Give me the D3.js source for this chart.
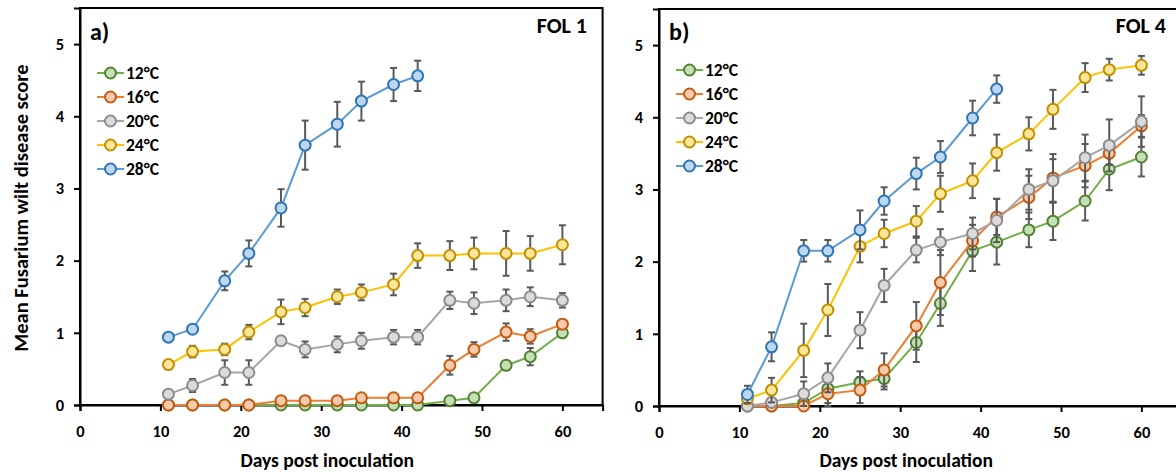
<!DOCTYPE html>
<html lang="en">
<head>
<meta charset="UTF-8">
<title>Fusarium wilt</title>
<script src="https://d3js.org/d3.v7.min.js"></script>
<style>
  body { margin: 0; background: #fff; }
  text { font-family: Carlito, Lato, "DejaVu Sans", sans-serif; font-weight: bold; fill: #000; }
</style>
</head>
<body>
<script>
// sampling days
var days = [11, 14, 18, 21, 25, 28, 32, 35, 39, 42, 46, 49, 53, 56, 60];
var temps = ['12°C', '16°C', '20°C', '24°C', '28°C'];
var xTicks = [0, 10, 20, 30, 40, 50, 60];
var yTicks = [0, 1, 2, 3, 4, 5];

// FOL 1 (panel a) means and error
var fol1_12 = [0, 0, 0, 0, 0, 0, 0, 0, 0, 0, 0.06, 0.1, 0.55, 0.67, 1.0];
var fol1_12e = [0, 0, 0, 0, 0, 0, 0, 0, 0, 0, 0.03, 0.04, 0.06, 0.12, 0.05];
var fol1_16 = [0, 0, 0, 0, 0.06, 0.06, 0.06, 0.1, 0.1, 0.1, 0.55, 0.77, 1.01, 0.95, 1.12];
var fol1_16e = [0, 0, 0, 0, 0.03, 0.03, 0.03, 0.04, 0.04, 0.04, 0.13, 0.1, 0.12, 0.1, 0.06];
var fol1_20 = [0.15, 0.27, 0.45, 0.45, 0.89, 0.77, 0.84, 0.89, 0.94, 0.94, 1.45, 1.41, 1.45, 1.5, 1.45];
var fol1_20e = [0.05, 0.09, 0.17, 0.17, 0.06, 0.11, 0.11, 0.11, 0.1, 0.1, 0.12, 0.15, 0.15, 0.13, 0.1];
var fol1_24 = [0.56, 0.74, 0.77, 1.01, 1.29, 1.35, 1.5, 1.56, 1.67, 2.07, 2.07, 2.1, 2.1, 2.1, 2.22];
var fol1_24e = [0.05, 0.08, 0.08, 0.1, 0.17, 0.12, 0.1, 0.11, 0.15, 0.17, 0.2, 0.22, 0.31, 0.24, 0.27];
var fol1_28 = [0.94, 1.05, 1.72, 2.1, 2.73, 3.6, 3.89, 4.21, 4.44, 4.56];
var fol1_28e = [0.04, 0.04, 0.13, 0.18, 0.26, 0.34, 0.31, 0.27, 0.23, 0.21];

// FOL 4 (panel b)
var fol4_12 = [0, 0, 0.04, 0.24, 0.33, 0.38, 0.88, 1.42, 2.15, 2.27, 2.44, 2.56, 2.84, 3.28, 3.45];
var fol4_12e = [0, 0, 0.03, 0.2, 0.15, 0.15, 0.27, 0.31, 0.28, 0.31, 0.24, 0.26, 0.27, 0.29, 0.27];
var fol4_16 = [0, 0, 0, 0.17, 0.22, 0.5, 1.11, 1.71, 2.29, 2.62, 2.89, 3.16, 3.33, 3.5, 3.88];
var fol4_16e = [0, 0, 0, 0.17, 0.18, 0.23, 0.33, 0.45, 0.22, 0.25, 0.3, 0.33, 0.3, 0.16, 0.15];
var fol4_20 = [0, 0.05, 0.17, 0.39, 1.05, 1.67, 2.16, 2.27, 2.39, 2.57, 3.0, 3.12, 3.44, 3.61, 3.94];
var fol4_20e = [0.03, 0.06, 0.17, 0.2, 0.25, 0.23, 0.17, 0.18, 0.22, 0.3, 0.28, 0.3, 0.32, 0.36, 0.35];
var fol4_24 = [0.1, 0.22, 0.77, 1.33, 2.21, 2.39, 2.56, 2.94, 3.12, 3.51, 3.77, 4.11, 4.55, 4.66, 4.72];
var fol4_24e = [0.05, 0.17, 0.37, 0.36, 0.22, 0.19, 0.21, 0.25, 0.24, 0.25, 0.23, 0.27, 0.2, 0.15, 0.13];
var fol4_28 = [0.16, 0.82, 2.15, 2.15, 2.44, 2.84, 3.22, 3.45, 3.99, 4.39];
var fol4_28e = [0.12, 0.2, 0.15, 0.15, 0.27, 0.19, 0.22, 0.22, 0.24, 0.19];

// line colour, marker fill, marker edge per temperature
var lineCol = ['#70ad47', '#ed7d31', '#a5a5a5', '#ffc000', '#5b9bd5'];
var fillCol = ['#c5e0b4', '#f8cbad', '#dbdbdb', '#ffe699', '#bdd7ee'];
var edgeCol = ['#548235', '#c55a11', '#8c8c8c', '#bf9000', '#2e75b6'];

var width = 1176, height = 472;

var svg = d3.select('body').append('svg')
    .attr('width', width)
    .attr('height', height);

function drawPanel(opt) {
    var x = d3.scaleLinear().domain([0, 65]).range([opt.left, opt.left + 65 * 8.04]);
    var y = d3.scaleLinear().domain([0, 5.5]).range([opt.bottom, opt.bottom - 397]);
    var g = svg.append('g');

    // frame
    g.append('rect')
        .attr('x', x(0)).attr('y', y(5.5))
        .attr('width', x(65) - x(0)).attr('height', y(0) - y(5.5))
        .attr('fill', 'none').attr('stroke', '#000').attr('stroke-width', 2);

    var xAxis = g.append('g')
        .attr('transform', 'translate(0,' + y(0) + ')')
        .call(d3.axisBottom(x).tickValues(xTicks).tickSize(6).tickPadding(14));
    var yAxis = g.append('g')
        .attr('transform', 'translate(' + x(0) + ',0)')
        .call(d3.axisLeft(y).tickValues(yTicks).tickFormat(d3.format('d')).tickSize(6).tickPadding(10));
    [xAxis, yAxis].forEach(function(a) {
        a.select('.domain').attr('stroke-width', 2);
        a.selectAll('.tick line').attr('stroke-width', 2);
        a.selectAll('.tick text').style('font-size', '16.5px').style('font-weight', 900);
    });

    // series: error bars, line, markers
    opt.series.forEach(function(s, i) {
        var pts = s.mean.map(function(v, j) { return { d: days[j], v: v, e: s.err[j] }; });
        var sg = g.append('g');
        var eb = sg.selectAll('.eb').data(pts.filter(function(p) { return p.e > 0; })).enter().append('g')
            .attr('stroke', '#595959').attr('stroke-width', 2);
        eb.append('line')
            .attr('x1', function(p) { return x(p.d); }).attr('x2', function(p) { return x(p.d); })
            .attr('y1', function(p) { return y(p.v + p.e); }).attr('y2', function(p) { return y(p.v - p.e); });
        eb.append('line')
            .attr('x1', function(p) { return x(p.d) - 3.5; }).attr('x2', function(p) { return x(p.d) + 3.5; })
            .attr('y1', function(p) { return y(p.v + p.e); }).attr('y2', function(p) { return y(p.v + p.e); });
        eb.append('line')
            .attr('x1', function(p) { return x(p.d) - 3.5; }).attr('x2', function(p) { return x(p.d) + 3.5; })
            .attr('y1', function(p) { return y(p.v - p.e); }).attr('y2', function(p) { return y(p.v - p.e); });

        sg.append('path')
            .datum(pts)
            .attr('fill', 'none')
            .attr('stroke', lineCol[i])
            .attr('stroke-width', 2)
            .attr('d', d3.line().x(function(p) { return x(p.d); }).y(function(p) { return y(p.v); }));

        sg.selectAll('circle').data(pts).enter().append('circle')
            .attr('cx', function(p) { return x(p.d); })
            .attr('cy', function(p) { return y(p.v); })
            .attr('r', 5.5)
            .attr('fill', fillCol[i])
            .attr('stroke', edgeCol[i])
            .attr('stroke-width', 2);
    });

    // legend
    var lg = g.append('g').attr('transform', 'translate(' + (opt.left + 17) + ',' + opt.legendTop + ')');
    temps.forEach(function(t, i) {
        var row = lg.append('g').attr('transform', 'translate(0,' + (i * 24) + ')');
        row.append('line').attr('x1', 0).attr('x2', 27).attr('y1', 0).attr('y2', 0)
            .attr('stroke', lineCol[i]).attr('stroke-width', 2);
        row.append('circle').attr('cx', 13.5).attr('cy', 0).attr('r', 5.5)
            .attr('fill', fillCol[i]).attr('stroke', edgeCol[i]).attr('stroke-width', 2);
        row.append('text').attr('x', 29).attr('y', 6).style('font-size', '17.5px').style('font-weight', 900).text(t);
    });

    g.append('text').attr('x', opt.left + 10).attr('y', 40).style('font-size', '24px').style('font-weight', 900).text(opt.tag);
    g.append('text').attr('x', opt.titleRight).attr('y', 33).attr('text-anchor', 'end')
        .style('font-size', '22px').style('font-weight', 900).text(opt.title);

    g.append('text')
        .attr('x', (x(0) + x(60)) / 2 + 6).attr('y', 467)
        .attr('text-anchor', 'middle').style('font-size', '19.5px').style('font-weight', 900)
        .text('Days post inoculation');
}

drawPanel({
    left: 80, bottom: 405, legendTop: 73, tag: 'a)', title: 'FOL 1', titleRight: 587,
    series: [
        { mean: fol1_12, err: fol1_12e },
        { mean: fol1_16, err: fol1_16e },
        { mean: fol1_20, err: fol1_20e },
        { mean: fol1_24, err: fol1_24e },
        { mean: fol1_28, err: fol1_28e }
    ]
});

drawPanel({
    left: 659, bottom: 406, legendTop: 70, tag: 'b)', title: 'FOL 4', titleRight: 1166,
    series: [
        { mean: fol4_12, err: fol4_12e },
        { mean: fol4_16, err: fol4_16e },
        { mean: fol4_20, err: fol4_20e },
        { mean: fol4_24, err: fol4_24e },
        { mean: fol4_28, err: fol4_28e }
    ]
});

svg.append('text')
    .attr('transform', 'translate(28,208) rotate(-90)')
    .attr('text-anchor', 'middle')
    .style('font-size', '20.5px').style('font-weight', 900)
    .text('Mean Fusarium wilt disease score');
</script>
</body>
</html>
